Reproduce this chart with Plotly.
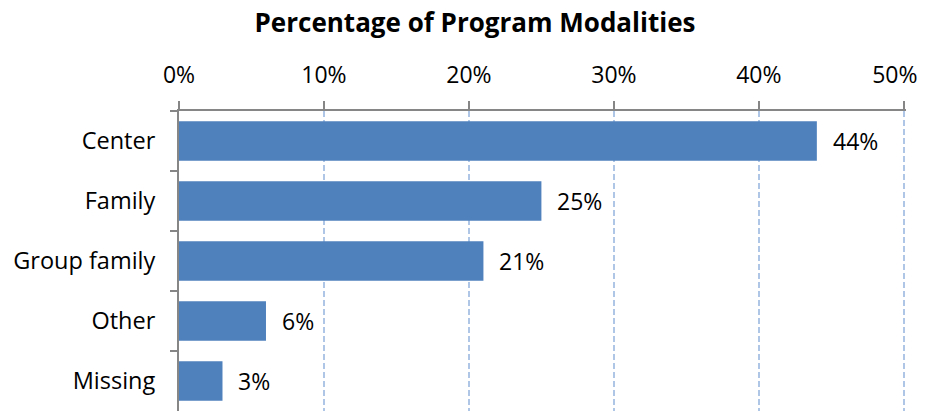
import plotly.graph_objects as go

categories = ["Center", "Family", "Group family", "Other", "Missing"]
values = [44, 25, 21, 6, 3]
tick_vals = [0, 10, 20, 30, 40, 50]
tick_text = ["0%", "10%", "20%", "30%", "40%", "50%\u00a0\u00a0\u00a0"]

FONT = "Open Sans, Carlito, Calibri, sans-serif"
BAR = "#4F81BD"

fig = go.Figure(go.Bar(
    x=values, y=categories, orientation="h",
    marker=dict(color=BAR, line=dict(width=0)),
    width=0.66,
))

for c, v in zip(categories, values):
    fig.add_annotation(x=v, y=c, text=f"{v}%", showarrow=False,
                       xanchor="left", xshift=14,
                       font=dict(family=FONT, size=23, color="#000"))

fig.update_layout(
    width=920, height=404,
    margin=dict(l=171, r=22, t=103, b=1, autoexpand=False),
    plot_bgcolor="white", paper_bgcolor="white",
    showlegend=False,
    title=dict(text="<b>Percentage of Program Modalities</b>",
               x=0.5076, xanchor="center", y=0.962, yanchor="middle",
               font=dict(family=FONT, size=26, color="#000")),
    xaxis=dict(side="top", range=[0, 50.15], tickvals=tick_vals, ticktext=tick_text,
               automargin=False,
               showgrid=True, gridcolor="#B0C6E6", griddash="6px,3px", gridwidth=1.5,
               showline=True, linecolor="#868686", linewidth=2,
               ticks="outside", ticklen=8, tickcolor="#868686", tickwidth=1.5,
               ticklabelstandoff=9, ticklabeloverflow="allow",
               tickfont=dict(family=FONT, size=23, color="#000"), zeroline=False),
    yaxis=dict(autorange="reversed", tickson="boundaries", automargin=False,
               showline=True, linecolor="#868686", linewidth=2,
               ticks="outside", ticklen=7, tickcolor="#868686", tickwidth=1.5,
               ticklabelstandoff=17,
               tickfont=dict(family=FONT, size=23.5, color="#000"),
               showgrid=False),
)

fig.write_html("out.html")
